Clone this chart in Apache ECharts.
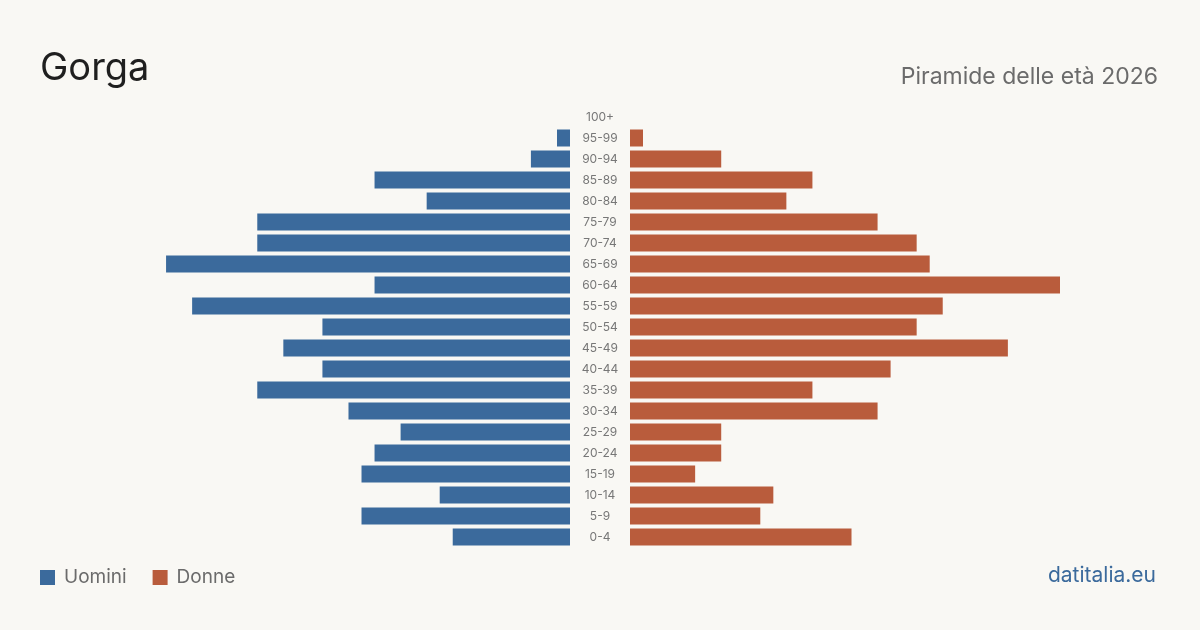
<!DOCTYPE html>
<html>
<head>
<meta charset="utf-8">
<script src="https://cdn.jsdelivr.net/npm/echarts@6/dist/echarts.min.js"></script>
<style>
  html, body { margin: 0; padding: 0; background: #f9f8f4; }
  #grafico { width: 1200px; height: 630px; }
</style>
</head>
<body>
<div id="grafico"></div>
<script>
// fasce d'età, dal basso verso l'alto
const fasce = ['0-4','5-9','10-14','15-19','20-24','25-29','30-34','35-39','40-44','45-49',
  '50-54','55-59','60-64','65-69','70-74','75-79','80-84','85-89','90-94','95-99','100+'];
const uomini = [9,16,10,16,15,13,17,24,19,22,19,29,15,31,24,24,11,15,3,1,0];
const donne  = [17,10,11,5,7,7,19,14,20,29,22,24,33,23,22,19,12,14,7,1,0];
const massimo = 33;

const blu = '#3b6a9c';
const rosso = '#b95c3c';
const font = 'Inter, "Noto Sans", sans-serif';

let myChart = echarts.init(document.getElementById('grafico'));

let options = {
  backgroundColor: '#f9f8f4',
  animation: false,
  title: [
    { text: 'Gorga', left: 40, top: 50, padding: 0,
      textStyle: { fontFamily: font, fontSize: 38, fontWeight: 'normal', color: '#1f1f1f' } },
    { text: 'Piramide delle età 2026', right: 42, top: 66, padding: 0,
      textStyle: { fontFamily: font, fontSize: 23, fontWeight: 'normal', color: '#6b6b6b' } },
    { text: 'datitalia.eu', right: 44, top: 565, padding: 0,
      textStyle: { fontFamily: font, fontSize: 21, fontWeight: 'normal', color: '#3b6a9c' } }
  ],
  legend: {
    left: 40, top: 568, padding: 0, itemWidth: 15, itemHeight: 15, itemGap: 26,
    icon: 'rect',
    textStyle: { fontFamily: font, fontSize: 19, color: '#6b6b6b', padding: [0, 0, 0, 4] },
    data: ['Uomini', 'Donne']
  },
  grid: [
    { left: 140, width: 430, top: 106.5, height: 441 },
    { left: 630, width: 430, top: 106.5, height: 441 }
  ],
  xAxis: [
    { gridIndex: 0, type: 'value', min: 0, max: massimo, inverse: true, show: false },
    { gridIndex: 1, type: 'value', min: 0, max: massimo, show: false }
  ],
  yAxis: [
    { gridIndex: 0, type: 'category', data: fasce, show: false },
    { gridIndex: 1, type: 'category', data: fasce, position: 'left',
      axisLine: { show: false }, axisTick: { show: false },
      axisLabel: { align: 'center', margin: 30, fontFamily: font, fontSize: 12, color: '#777' } }
  ],
  series: [
    { name: 'Uomini', type: 'bar', xAxisIndex: 0, yAxisIndex: 0, data: uomini,
      barWidth: 17, itemStyle: { color: blu } },
    { name: 'Donne', type: 'bar', xAxisIndex: 1, yAxisIndex: 1, data: donne,
      barWidth: 17, itemStyle: { color: rosso } }
  ]
};
myChart.setOption(options);
</script>
</body>
</html>
